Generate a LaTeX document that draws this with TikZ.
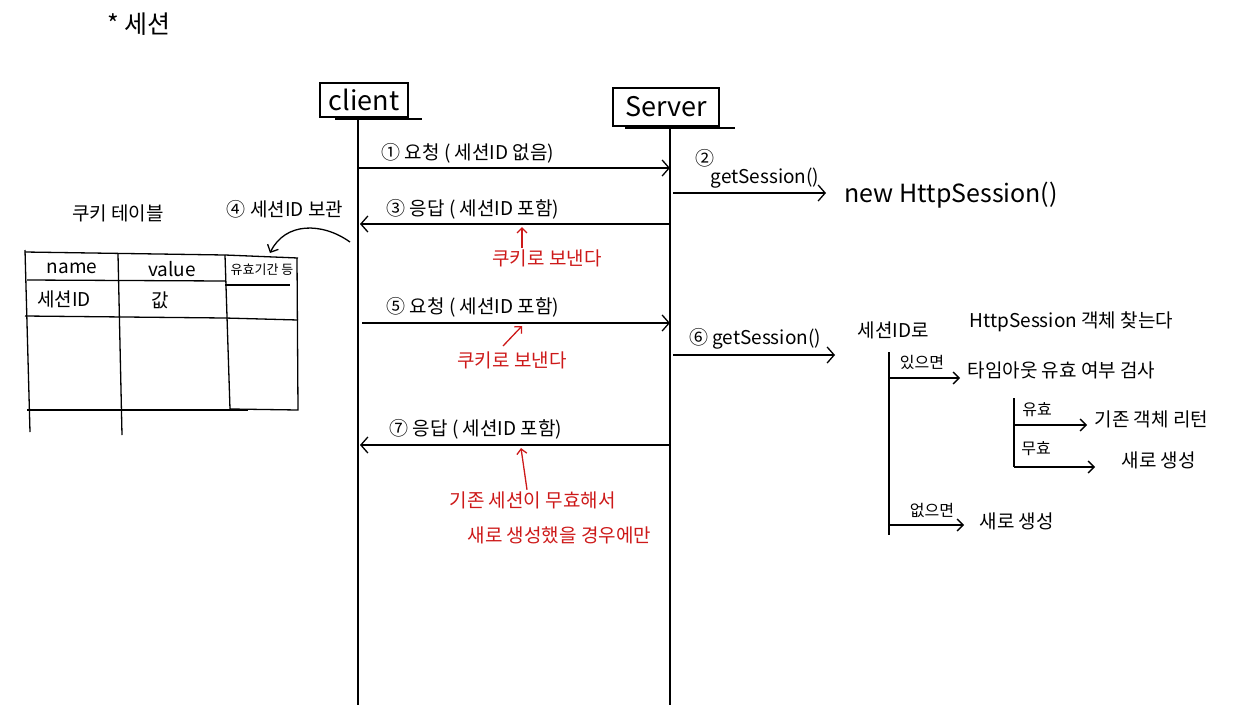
\documentclass[tikz,border=0pt]{standalone}
\usepackage{fontspec}
\setmainfont{Noto Sans CJK KR}
\usetikzlibrary{arrows.meta}
\definecolor{hred}{RGB}{205,25,25}
\begin{document}
\begin{tikzpicture}[x=1pt,y=-1pt,
  line width=1.3pt,
  every node/.style={inner sep=1pt},
  lbl/.style={font=\fontsize{19}{21}\selectfont},
  slbl/.style={font=\fontsize{16}{18}\selectfont},
  rlbl/.style={font=\fontsize{19}{21}\selectfont, text=hred},
  msg/.style={-{Straight Barb[length=7pt,width=16pt]}},
  sarr/.style={-{Straight Barb[length=6pt,width=12pt]}},
  rarr/.style={hred, -{Straight Barb[length=5pt,width=10pt]}},
  head/.style={draw, font=\fontsize{27}{29}\selectfont, inner sep=0pt}
]
\useasboundingbox (0,0) rectangle (1235,705);

% title
\node[font=\fontsize{25}{27}\selectfont, anchor=west] (title) at (106,24) {* 세션};

% lifeline heads
\node[head, minimum width=88pt, minimum height=34pt] (client) at (364,100) {client};
\node[head, minimum width=106pt, minimum height=38pt] (server) at (666,107) {Server};
\draw (335,119) -- (422,119);
\draw (625,128) -- (735,128);
\coordinate (cbot) at (358,705);
\coordinate (sbot) at (670,705);
\coordinate (ctop) at (358,119);
\coordinate (stop) at (670,128);
\draw (ctop) -- (cbot);
\draw (stop) -- (sbot);

% message anchors
\coordinate (m1a) at (358,168); \coordinate (m1b) at (670,168);
\coordinate (m3a) at (670,224); \coordinate (m3b) at (360,224);
\coordinate (m5a) at (362,323); \coordinate (m5b) at (670,323);
\coordinate (m7a) at (670,445); \coordinate (m7b) at (360,445);

\draw[msg] (m1a) -- (m1b);
\node[lbl, anchor=west] (t1) at (380,153) {① 요청 ( 세션ID 없음)};
\draw[msg] (m3a) -- (m3b);
\node[lbl, anchor=west] (t3) at (385,209) {③ 응답 ( 세션ID 포함)};
\draw[msg] (m5a) -- (m5b);
\node[lbl, anchor=west] (t5) at (385,307) {⑤ 요청 ( 세션ID 포함)};
\draw[msg] (m7a) -- (m7b);
\node[lbl, anchor=west] (t7) at (388,429) {⑦ 응답 ( 세션ID 포함)};

% red notes
\node[rlbl] (r3) at (547,258) {쿠키로 보낸다};
\coordinate (r3t) at (522,227);
\draw[rarr] (r3.north -| r3t) -- (r3t);
\node[rlbl] (r5) at (512,360) {쿠키로 보낸다};
\coordinate (r5t) at (522,326);
\draw[rarr] (503,346) -- (r5t);
\node[rlbl, anchor=west] (r7a) at (448,500) {기존 세션이 무효해서};
\node[rlbl, anchor=west] (r7b) at (466,535) {새로 생성했을 경우에만};
\coordinate (r7t) at (521,448);
\draw[rarr] (r7a.north -| 527,0) -- (r7t);

% server side step 2
\node[lbl] (n2) at (705,158) {②};
\node[lbl] (g2) at (765,178) {getSession()};
\coordinate (g2a) at (673,193);
\coordinate (g2b) at (826,193);
\node[font=\fontsize{25}{27}\selectfont, anchor=west] (newhs) at (843,195) {new HttpSession()};
\draw[msg] (g2a) -- (g2b);

% step 6
\node[lbl] (g6) at (755,339) {⑥ getSession()};
\coordinate (g6a) at (673,355);
\coordinate (g6b) at (835,355);
\draw[msg] (g6a) -- (g6b);
\node[lbl, anchor=west] (find1) at (856,330) {세션ID로};
\node[lbl, anchor=west] (find2) at (968,322) {HttpSession 객체 찾는다};

% tree
\coordinate (tr1) at (889,352);
\coordinate (tr2) at (889,535);
\draw (tr1) -- (tr2);
\coordinate (y1) at (889,378);
\node[slbl] (has) at (922,362) {있으면};
\node[lbl, anchor=west] (chk) at (966,370) {타임아웃 유효 여부 검사};
\draw[sarr, shorten >=6pt] (y1) -- (chk.west |- y1);
\coordinate (st1) at (1014,398);
\coordinate (st2) at (1014,462);
\draw (st1) -- (st2);
\coordinate (y2) at (1014,425);
\coordinate (y3) at (1014,467);
\node[slbl] (valid) at (1037,410) {유효};
\node[lbl, anchor=west] (ret) at (1093,419) {기존 객체 리턴};
\draw[sarr, shorten >=6pt] (y2) -- (ret.west |- y2);
\node[slbl] (invalid) at (1036,449) {무효};
\node[lbl, anchor=west] (new1) at (1120,460) {새로 생성};
\draw[sarr] (y3) -- (1095,467);
\draw (st2) -- (y3);
\coordinate (y4) at (889,525);
\node[slbl] (none) at (932,510) {없으면};
\node[lbl, anchor=west] (new2) at (978,521) {새로 생성};
\draw[sarr, shorten >=14pt] (y4) -- (new2.west |- y4);

% cookie table
\node[lbl] (ctitle) at (118,213) {쿠키 테이블};
\node[lbl] (keep) at (285,209) {④ 세션ID 보관};
\coordinate (k1) at (350,242);
\coordinate (k2) at (270,253);
\draw[sarr] (k1) .. controls (322,222) and (285,222) .. (k2);

\draw (25,252) -- (225,255) -- (298,258);
\draw (27,280) -- (225,281);
\draw (225,285) -- (290,285);
\draw (25,316) -- (225,318) -- (298,320);
\draw (27,410) -- (248,410);
\draw (25,250) -- (30,432);
\draw (118,254) -- (122,435);
\draw (225,255) -- (230,409) -- (298,410) -- (297,258);
\node[lbl] (hname) at (72,268) {name};
\node[lbl] (hval) at (172,269) {value};
\node[font=\fontsize{13}{15}\selectfont] (hexp) at (262,270) {유효기간 등};
\node[lbl] (csid) at (64,299) {세션ID};
\node[lbl] (cval) at (160,300) {값};
\end{tikzpicture}
\end{document}
